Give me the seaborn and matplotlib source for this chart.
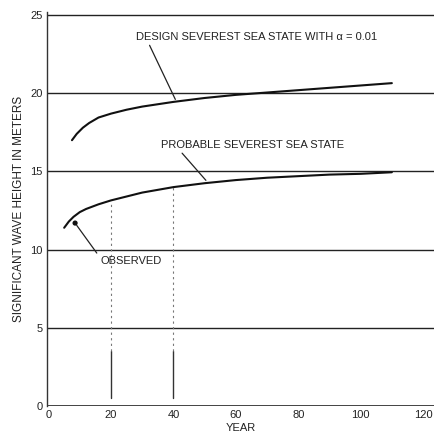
import matplotlib
matplotlib.use("Agg")
import matplotlib.pyplot as plt
import seaborn as sns
import pandas as pd

sns.set_theme(style="white")
plt.rcParams['font.family'] = ['Liberation Sans', 'DejaVu Sans']

design_years = [7.5, 9, 11, 13, 16, 20, 25, 30, 40, 50, 60, 70, 80, 90, 100, 110]
design_heights = [17.0, 17.4, 17.8, 18.1, 18.45, 18.7, 18.95, 19.15, 19.45, 19.7, 19.9, 20.05, 20.2, 20.35, 20.5, 20.65]
prob_years = [5, 6.5, 8, 10, 12, 16, 20, 25, 30, 40, 50, 60, 70, 80, 90, 100, 110]
prob_heights = [11.4, 11.8, 12.1, 12.4, 12.6, 12.9, 13.15, 13.4, 13.65, 14.0, 14.25, 14.45, 14.6, 14.7, 14.8, 14.85, 14.95]
obs_year = [8.5]
obs_height = [11.7]
x_ticks = [0, 20, 40, 60, 80, 100, 120]
y_ticks = [0, 5, 10, 15, 20, 25]

df_d = pd.DataFrame({"year": design_years, "h": design_heights})
df_p = pd.DataFrame({"year": prob_years, "h": prob_heights})
df_o = pd.DataFrame({"year": obs_year, "h": obs_height})

fig = plt.figure(figsize=(4.36, 4.41), dpi=100)
ax = fig.add_axes([47/436, 1-406/441, (434-47)/436, (406-12)/441])

for yv in y_ticks[1:]:
    ax.axhline(yv, color="#222222", lw=1.0, zorder=1)
ax.axhline(0, color="#222222", lw=1.2, zorder=1)

# faint vertical drop lines
for xv, top in [(20, 13.1), (40, 14.0)]:
    ax.plot([xv, xv], [0.5, 3.5], color="#333333", lw=1.0)
    ax.plot([xv, xv], [3.5, top], color="#777777", lw=0.8, ls=(0, (2, 3)))

sns.lineplot(data=df_d, x="year", y="h", ax=ax, color="#111111", lw=1.5, zorder=3)
sns.lineplot(data=df_p, x="year", y="h", ax=ax, color="#111111", lw=1.5, zorder=3)
sns.scatterplot(data=df_o, x="year", y="h", ax=ax, color="#111111", s=14, zorder=4, edgecolor="none")

fs = 8
ax.annotate("DESIGN SEVEREST SEA STATE WITH \u03b1 = 0.01", xy=(41, 19.45), xytext=(28, 23.6),
            fontsize=fs, color="#222222", va="center",
            arrowprops=dict(arrowstyle="-", color="#222222", lw=0.9, shrinkA=0, relpos=(0.05, 0)))
ax.annotate("PROBABLE SEVEREST SEA STATE", xy=(51, 14.3), xytext=(36, 16.7),
            fontsize=fs, color="#222222", va="center",
            arrowprops=dict(arrowstyle="-", color="#222222", lw=0.9, shrinkA=0, relpos=(0.1, 0)))
ax.annotate("OBSERVED", xy=(8.5, 11.7), xytext=(16.5, 9.3),
            fontsize=fs, color="#222222", va="center",
            arrowprops=dict(arrowstyle="-", color="#222222", lw=0.9, shrinkA=0, relpos=(0, 0.8)))

ax.set_xlim(-0.5, 123.5)
ax.set_ylim(0, 25.2)
ax.set_xticks(x_ticks)
ax.set_yticks(y_ticks)
ax.tick_params(axis="both", length=0, labelsize=fs, colors="#222222", pad=3)
ax.set_xlabel("YEAR", fontsize=fs, color="#222222", labelpad=2)
ax.set_ylabel("SIGNIFICANT WAVE HEIGHT IN METERS", fontsize=8.5, color="#222222", labelpad=4)
for s in ["top", "right", "bottom"]:
    ax.spines[s].set_visible(False)
ax.spines["left"].set_color("#333333")
ax.spines["left"].set_linewidth(1.0)

fig.savefig("out.png", dpi=100)
